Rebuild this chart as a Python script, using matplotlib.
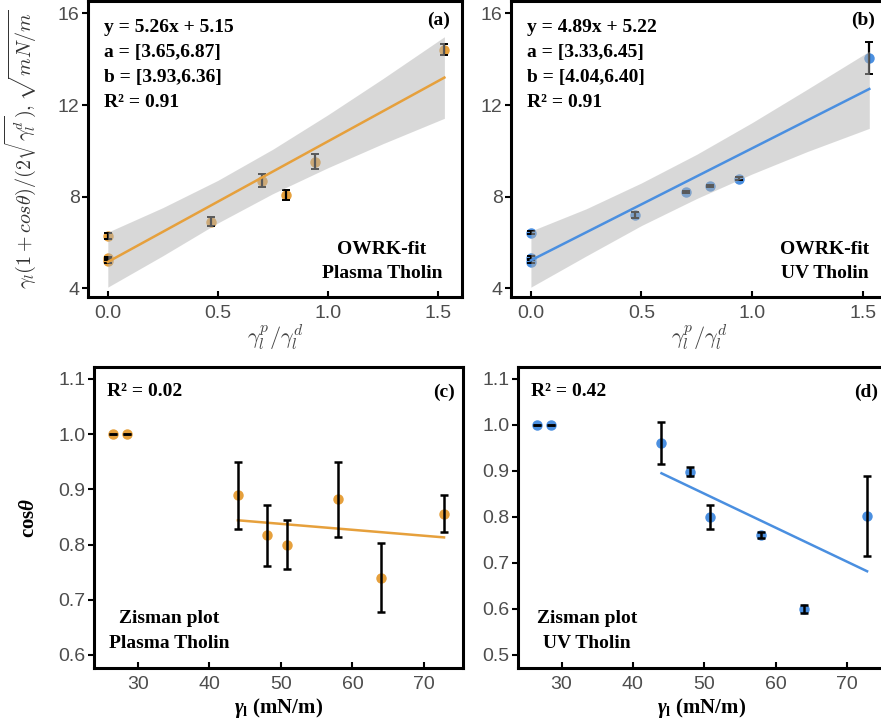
import matplotlib
matplotlib.use("Agg")
import matplotlib.pyplot as plt
import numpy as np

# ============================================================
# DATA
# ============================================================

# OWRK panels: x = gamma_l^p / gamma_l^d
owrk_x = [0.0, 0.0, 0.0, 0.47, 0.70, 0.81, 0.94, 1.53]

plasma_owrk_y = [6.29, 5.32, 5.17, 6.91, 8.70, 8.07, 9.52, 14.42]
plasma_owrk_err = [0.13, 0.05, 0.05, 0.20, 0.30, 0.20, 0.33, 0.25]

uv_owrk_y = [6.43, 5.33, 5.16, 7.20, 8.19, 8.48, 8.79, 14.07]
uv_owrk_err = [0.08, 0.06, 0.06, 0.15, 0.04, 0.04, 0.06, 0.70]

# fit lines y = a*x + b (from the annotations)
plasma_fit = (5.26, 5.15)
uv_fit = (4.89, 5.22)
fit_x = [0.0, 1.53]

# confidence bands
band_x = [0.0, 0.25, 0.5, 0.75, 1.0, 1.25, 1.53]
plasma_band_lo = [4.05, 5.42, 6.85, 8.13, 9.26, 10.31, 11.42]
plasma_band_hi = [6.45, 7.52, 8.71, 10.07, 11.57, 13.15, 14.98]
uv_band_lo = [4.05, 5.41, 6.74, 7.92, 8.99, 9.97, 10.98]
uv_band_hi = [6.50, 7.47, 8.60, 9.85, 11.23, 12.69, 14.35]

# Zisman panels: x = gamma_l (mN/m), y = cos(theta)
zisman_x = [26.5, 28.5, 44.0, 48.0, 50.8, 58.0, 64.0, 72.8]

plasma_cos = [1.0, 1.0, 0.889, 0.817, 0.800, 0.882, 0.740, 0.856]
plasma_cos_err = [0.0, 0.0, 0.060, 0.055, 0.045, 0.068, 0.062, 0.033]

uv_cos = [1.0, 1.0, 0.961, 0.898, 0.800, 0.761, 0.600, 0.802]
uv_cos_err = [0.0, 0.0, 0.045, 0.010, 0.026, 0.007, 0.008, 0.087]

zisman_fit_x = [44.0, 72.8]
plasma_zisman_fit = [0.844, 0.813]
uv_zisman_fit = [0.895, 0.682]

# ============================================================
# STYLE
# ============================================================

orange = "#E6A03C"
blue = "#4A8FE0"
band_colour = "#b3b3b3"
tick_colour = "#4d4d4d"
serif = "Liberation Serif"

plt.rcParams["font.family"] = "Liberation Sans"
plt.rcParams["mathtext.fontset"] = "custom"
plt.rcParams["mathtext.rm"] = "Liberation Serif:bold"
plt.rcParams["mathtext.bf"] = "Liberation Serif:bold"
plt.rcParams["mathtext.it"] = "Liberation Serif:italic:bold"

W, H = 881, 727
fig = plt.figure(figsize=(W / 100, H / 100), dpi=100)


def px_axes(left, top, right, bottom):
    return fig.add_axes([left / W, 1 - bottom / H, (right - left) / W, (bottom - top) / H])


ax_a = px_axes(88, 1, 462, 297)
ax_b = px_axes(511, 1, 887, 297)
ax_c = px_axes(94, 367, 463, 668)
ax_d = px_axes(518, 367, 886, 668)


def frame(ax):
    for s in ax.spines.values():
        s.set_linewidth(2.2)
        s.set_color("black")
    ax.tick_params(axis="y", direction="out", length=4, width=1.5,
                   labelsize=14, labelcolor=tick_colour, pad=2)
    ax.tick_params(axis="x", direction="in", length=4, width=1.5,
                   labelsize=14, labelcolor=tick_colour, pad=6)


def bold(ax, x, y, s, **kw):
    ax.text(x, y, s, transform=ax.transAxes, fontsize=14, fontweight="bold",
            family=serif, **kw)


# ============================================================
# OWRK PANELS
# ============================================================

owrk_panels = [
    (ax_a, plasma_owrk_y, plasma_owrk_err, plasma_fit, plasma_band_lo, plasma_band_hi,
     orange, ["y = 5.26x + 5.15", "a = [3.65,6.87]", "b = [3.93,6.36]", "R² = 0.91"],
     "(a)", "OWRK-fit", "Plasma Tholin", 0.786),
    (ax_b, uv_owrk_y, uv_owrk_err, uv_fit, uv_band_lo, uv_band_hi,
     blue, ["y = 4.89x + 5.22", "a = [3.33,6.45]", "b = [4.04,6.40]", "R² = 0.91"],
     "(b)", "OWRK-fit", "UV Tholin", 0.835),
]

for ax, y, err, fit, lo, hi, col, lines, tag, t1, t2, tx in owrk_panels:
    ax.plot(owrk_x, y, "o", color=col, markersize=6.5, zorder=2)
    ax.errorbar(owrk_x, y, yerr=err, fmt="none", ecolor="black", elinewidth=1.6,
                capsize=3, capthick=1.4, zorder=2.5)
    ax.fill_between(band_x, lo, hi, color=band_colour, alpha=0.5, lw=0, zorder=3)
    fx = np.array(fit_x)
    ax.plot(fx, fit[0] * fx + fit[1], color=col, lw=1.8, zorder=4)

    ax.set_xlim(-0.09, 1.61)
    ax.set_ylim(3.62, 16.54)
    ax.set_xticks([0, 0.5, 1.0, 1.5])
    ax.set_xticklabels(["0.0", "0.5", "1.0", "1.5"])
    ax.set_yticks([4, 8, 12, 16])
    frame(ax)

    ax.set_xlabel(r"$\gamma_l^p/\gamma_l^d$", fontsize=16, color="#444444",
                  math_fontfamily="cm", labelpad=0)

    for i, s in enumerate(lines):
        bold(ax, 0.042, 0.912 - i * 0.085, s, ha="left", va="center")
    bold(ax, 0.968, 0.936, tag, ha="right", va="center")
    bold(ax, tx, 0.162, t1, ha="center", va="center")
    bold(ax, tx, 0.078, t2, ha="center", va="center")

ax_a.set_ylabel(r"$\gamma_l(1 + cos\theta)/(2\sqrt{\gamma_l^d}),\sqrt{mN/m}$",
                fontsize=14.5, color="#333333", math_fontfamily="cm")
ax_a.yaxis.set_label_coords(-0.135, 0.5)

# ============================================================
# ZISMAN PANELS
# ============================================================

zisman_panels = [
    (ax_c, plasma_cos, plasma_cos_err, plasma_zisman_fit, orange, "R² = 0.02", "(c)",
     "Plasma Tholin", 0.203, (0.5764, 1.1217), [0.6, 0.7, 0.8, 0.9, 1.0, 1.1]),
    (ax_d, uv_cos, uv_cos_err, uv_zisman_fit, blue, "R² = 0.42", "(d)",
     "UV Tholin", 0.1875, (0.4717, 1.126), [0.5, 0.6, 0.7, 0.8, 0.9, 1.0, 1.1]),
]

for ax, y, err, fit, col, r2, tag, name, tx, ylim, yt in zisman_panels:
    ax.plot(zisman_x, y, "o", color=col, markersize=6.5, zorder=2)
    ax.errorbar(zisman_x, y, yerr=err, fmt="none", ecolor="black", elinewidth=1.8,
                capsize=3.2, capthick=1.8, zorder=3)
    ax.plot(zisman_fit_x, fit, color=col, lw=1.8, zorder=2.5)

    ax.set_xlim(23.9, 75.45)
    ax.set_ylim(*ylim)
    ax.set_xticks([30, 40, 50, 60, 70])
    ax.set_yticks(yt)
    ax.set_yticklabels([f"{v:.1f}" for v in yt])
    frame(ax)

    ax.set_xlabel(r"$\gamma_\mathrm{l}$ (mN/m)", fontsize=15, fontweight="bold",
                  family=serif, labelpad=2)

    bold(ax, 0.036, 0.917, r2, ha="left", va="center")
    bold(ax, 0.978, 0.917, tag, ha="right", va="center")
    bold(ax, tx, 0.163, "Zisman plot", ha="center", va="center")
    bold(ax, tx, 0.083, name, ha="center", va="center")

ax_c.set_ylabel(r"cos$\theta$", fontsize=15, fontweight="bold", family=serif)
ax_c.yaxis.set_label_coords(-0.15, 0.5)

fig.savefig("out.png", dpi=100)
